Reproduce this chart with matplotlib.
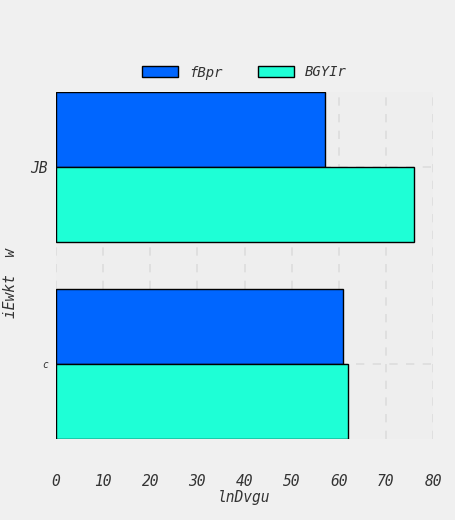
import numpy as np
from matplotlib import pyplot as plt

categories = ["c", "JB"]
series_names = ["fBpr", "BGYIr"]
fbpr_values = [61, 57]
bgyir_values = [62, 76]
colors = ["#0066ff", "#1effd6"]

plt.rcParams['font.family'] = ['DejaVu Sans Mono']
plt.rcParams['font.style'] = 'italic'

fig = plt.figure(figsize=(4.55, 5.2), dpi=100, facecolor="#f0f0f0")
ax = fig.add_axes([56/455, 1-439/520, (433-56)/455, (439-92)/520])
ax.set_facecolor("#eeeeee")

y = np.arange(len(categories))
h = 0.38
ax.barh(y + h/2, fbpr_values, height=h, color=colors[0], edgecolor="black", linewidth=1, label=series_names[0], zorder=2)
ax.barh(y - h/2, bgyir_values, height=h, color=colors[1], edgecolor="black", linewidth=1, label=series_names[1], zorder=2)

ax.set_xlim(0, 80)
ax.set_ylim(-h, 1 + h)
ax.set_xticks(range(0, 81, 10))
ax.set_yticks(y)
ax.set_yticklabels(categories)
ax.get_yticklabels()[0].set_fontsize(7)
ax.get_yticklabels()[1].set_fontsize(10.5)
ax.tick_params(axis="x", labelsize=10.5, length=0, pad=25, colors="#333333")
ax.tick_params(axis="y", length=0, pad=6, colors="#333333")
for s in ax.spines.values():
    s.set_visible(False)
ax.grid(True, linestyle=(0, (5, 5)), color="#dddddd", linewidth=1.2, zorder=0)
ax.set_axisbelow(True)

ax.set_xlabel("lnDvgu", fontsize=10.5, color="#333333", labelpad=1)
ax.set_ylabel("iEwkt  w", fontsize=10.5, color="#333333", labelpad=2)
ax.yaxis.set_label_coords(-0.1, 0.45)

ax.legend(loc="lower center", bbox_to_anchor=(0.5, 1.0), ncol=2, frameon=False,
          fontsize=10, handlelength=2.6, handleheight=0.8, columnspacing=2.5, labelcolor="#333333")

fig.savefig("out.png", facecolor=fig.get_facecolor())
